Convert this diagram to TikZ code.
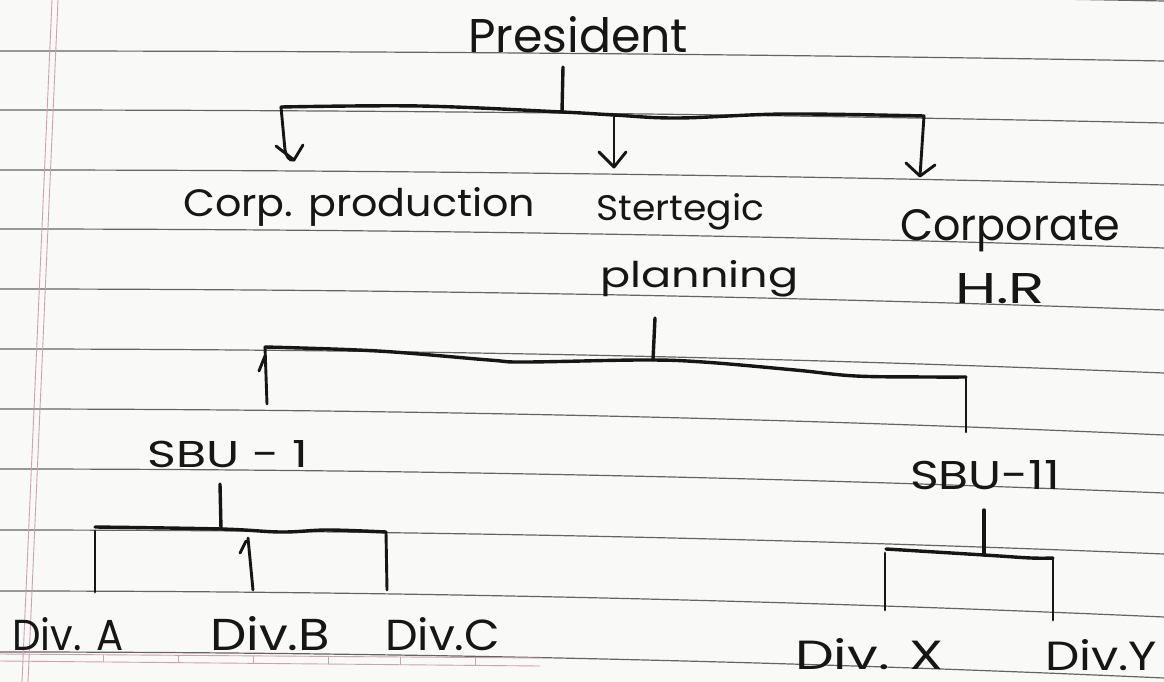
\documentclass[tikz,border=0pt]{standalone}
\usepackage{fontspec}
\setmainfont{Poppins}
\usepackage{graphicx}
\definecolor{paper}{RGB}{249,249,247}
\definecolor{ruleline}{RGB}{100,100,100}
\definecolor{marginpink}{RGB}{205,160,178}
\definecolor{ink}{RGB}{22,22,22}
% text set to a given width and height (in pt)
\newcommand{\hand}[3]{\resizebox{#1pt}{#2pt}{#3}}
\tikzset{
  ruled/.style={draw=ruleline, line width=1.2pt},
  marginline/.style={draw=marginpink, line width=0.9pt},
  pen/.style={draw=ink, line width=3.4pt, line cap=round, line join=round},
  penthin/.style={draw=ink, line width=2.9pt, line cap=round, line join=round},
  label/.style={inner sep=0pt, anchor=base west, text=ink},
}
\begin{document}
\begin{tikzpicture}[x=1pt,y=-1pt]
\fill[paper] (0,0) rectangle (1164,682);
\useasboundingbox (0,0) rectangle (1164,682);

% ruled notebook lines
\foreach \a/\b in {-10/1, 51/61, 110/123, 170/185, 229/248, 289/310, 349/373, 409/435, 469/493, 530/554, 591/617, 652/678}{
  \draw[ruled] (0,\a) .. controls (388,\a) and (776,{\a+(\b-\a)/3}) .. (1164,\b);
}
% margin
\draw[marginline] (52,0) -- (22,682);
\draw[marginline] (58,0) -- (28,682);
% pink ruler edge at the bottom
\draw[marginline] (0,654) -- (540,658);
\draw[marginline] (0,661) -- (540,666);
\foreach \x in {103,178,253,328,400,475}{
  \draw[marginline] (\x,{654+4*\x/540}) -- (\x,{661+5*\x/540});
}

% labels
\node[label] (pres)   at (468,53)  {\hand{220}{36}{President}};
\node[label] (cprod)  at (183,216) {\hand{352}{29}{Corp. production}};
\node[label] (strat)  at (596,220) {\hand{168}{27}{Stertegic}};
\node[label] (plan)   at (600,287) {\hand{198}{27}{planning}};
\node[label] (corpo)  at (900,240) {\hand{220}{31}{Corporate}};
\node[label] (hr)     at (955,303) {\hand{90}{30}{H.R}};
\node[label] (sbua)   at (147,467) {\hand{161}{27}{SBU - 1}};
\node[label] (sbub)   at (910,489) {\hand{150}{29}{SBU-11}};
\node[label] (diva)   at (12,650)  {\hand{111}{33}{Div. A}};
\node[label] (divb)   at (210,650) {\hand{120}{34}{Div.B}};
\node[label] (divc)   at (385,650) {\hand{115}{33}{Div.C}};
\node[label] (divx)   at (795,669) {\hand{148}{31}{Div. X}};
\node[label] (divy)   at (1045,670){\hand{112}{31}{Div.Y}};

% junction points
\coordinate (presdrop) at (563,67);
\coordinate (bar1w) at (281,107);
\coordinate (bar1p) at (562,112);
\coordinate (bar1m) at (614,115);
\coordinate (bar1e) at (924,116);
\coordinate (tipA) at (294,160);
\coordinate (tipB) at (614,167);
\coordinate (tipC) at (920,176);

\coordinate (plandrop) at (655,318);
\coordinate (bar2w) at (265,347);
\coordinate (bar2m) at (653,360);
\coordinate (bar2e) at (966,377);
\coordinate (sbuatop) at (267,404);
\coordinate (sbubtop) at (966,432);

\coordinate (sbuadrop) at (220,484);
\coordinate (bar3w) at (95,527);
\coordinate (bar3m) at (221,529);
\coordinate (bar3e) at (386,532);
\coordinate (divatop) at (95,592);
\coordinate (divbtop) at (253,590);
\coordinate (divctop) at (387,590);

\coordinate (sbubdrop) at (984,510);
\coordinate (bar4w) at (886,549);
\coordinate (bar4m) at (984,555);
\coordinate (bar4e) at (1053,558);
\coordinate (divxtop) at (885,610);
\coordinate (divytop) at (1053,620);

% President to the three departments
\draw[pen] (presdrop) -- (bar1p);
\draw[pen] plot[smooth, tension=0.6] coordinates {(bar1w) (420,106) (bar1p) (bar1m) (678,118) (786,114) (bar1e)};
\draw[penthin] (bar1w) -- (285,150) to[out=-80,in=200] (tipA);
\draw[penthin] (276,146) -- (tipA) -- (303,145);
\draw[penthin] (bar1m) -- (tipB);
\draw[penthin] (599,152) -- (tipB) -- (626,152);
\draw[penthin] (bar1e) -- (tipC);
\draw[penthin] (906,163) -- (tipC) -- (935,165);

% strategic planning to the two SBUs
\draw[pen] (plandrop) -- (bar2m);
\draw[pen] plot[smooth, tension=0.6] coordinates {(bar2w) (378,351) (489,360) (525,362) (642,360) (703,362) (795,370) (856,376) (930,377) (bar2e)};
\draw[penthin] (bar2w) -- (sbuatop);
\draw[penthin] (259,371) -- (265,356);
\draw[penthin] (bar2e) -- (sbubtop);

% SBU-1 divisions
\draw[pen] (sbuadrop) -- (bar3m);
\draw[pen] plot[smooth, tension=0.6] coordinates {(bar3w) (bar3m) (281,532) (328,530) (bar3e)};
\draw[penthin] (95,531) -- (divatop);
\draw[penthin] (248,538) -- (divbtop);
\draw[penthin] (240,553) -- (246,541);
\draw[penthin] (bar3e) -- (divctop);

% SBU-11 divisions
\draw[pen] (sbubdrop) -- (bar4m);
\draw[pen] plot[smooth, tension=0.6] coordinates {(bar4w) (bar4m) (1031,558) (bar4e)};
\draw[penthin] (885,553) -- (divxtop);
\draw[penthin] (bar4e) -- (divytop);
\end{tikzpicture}
\end{document}
